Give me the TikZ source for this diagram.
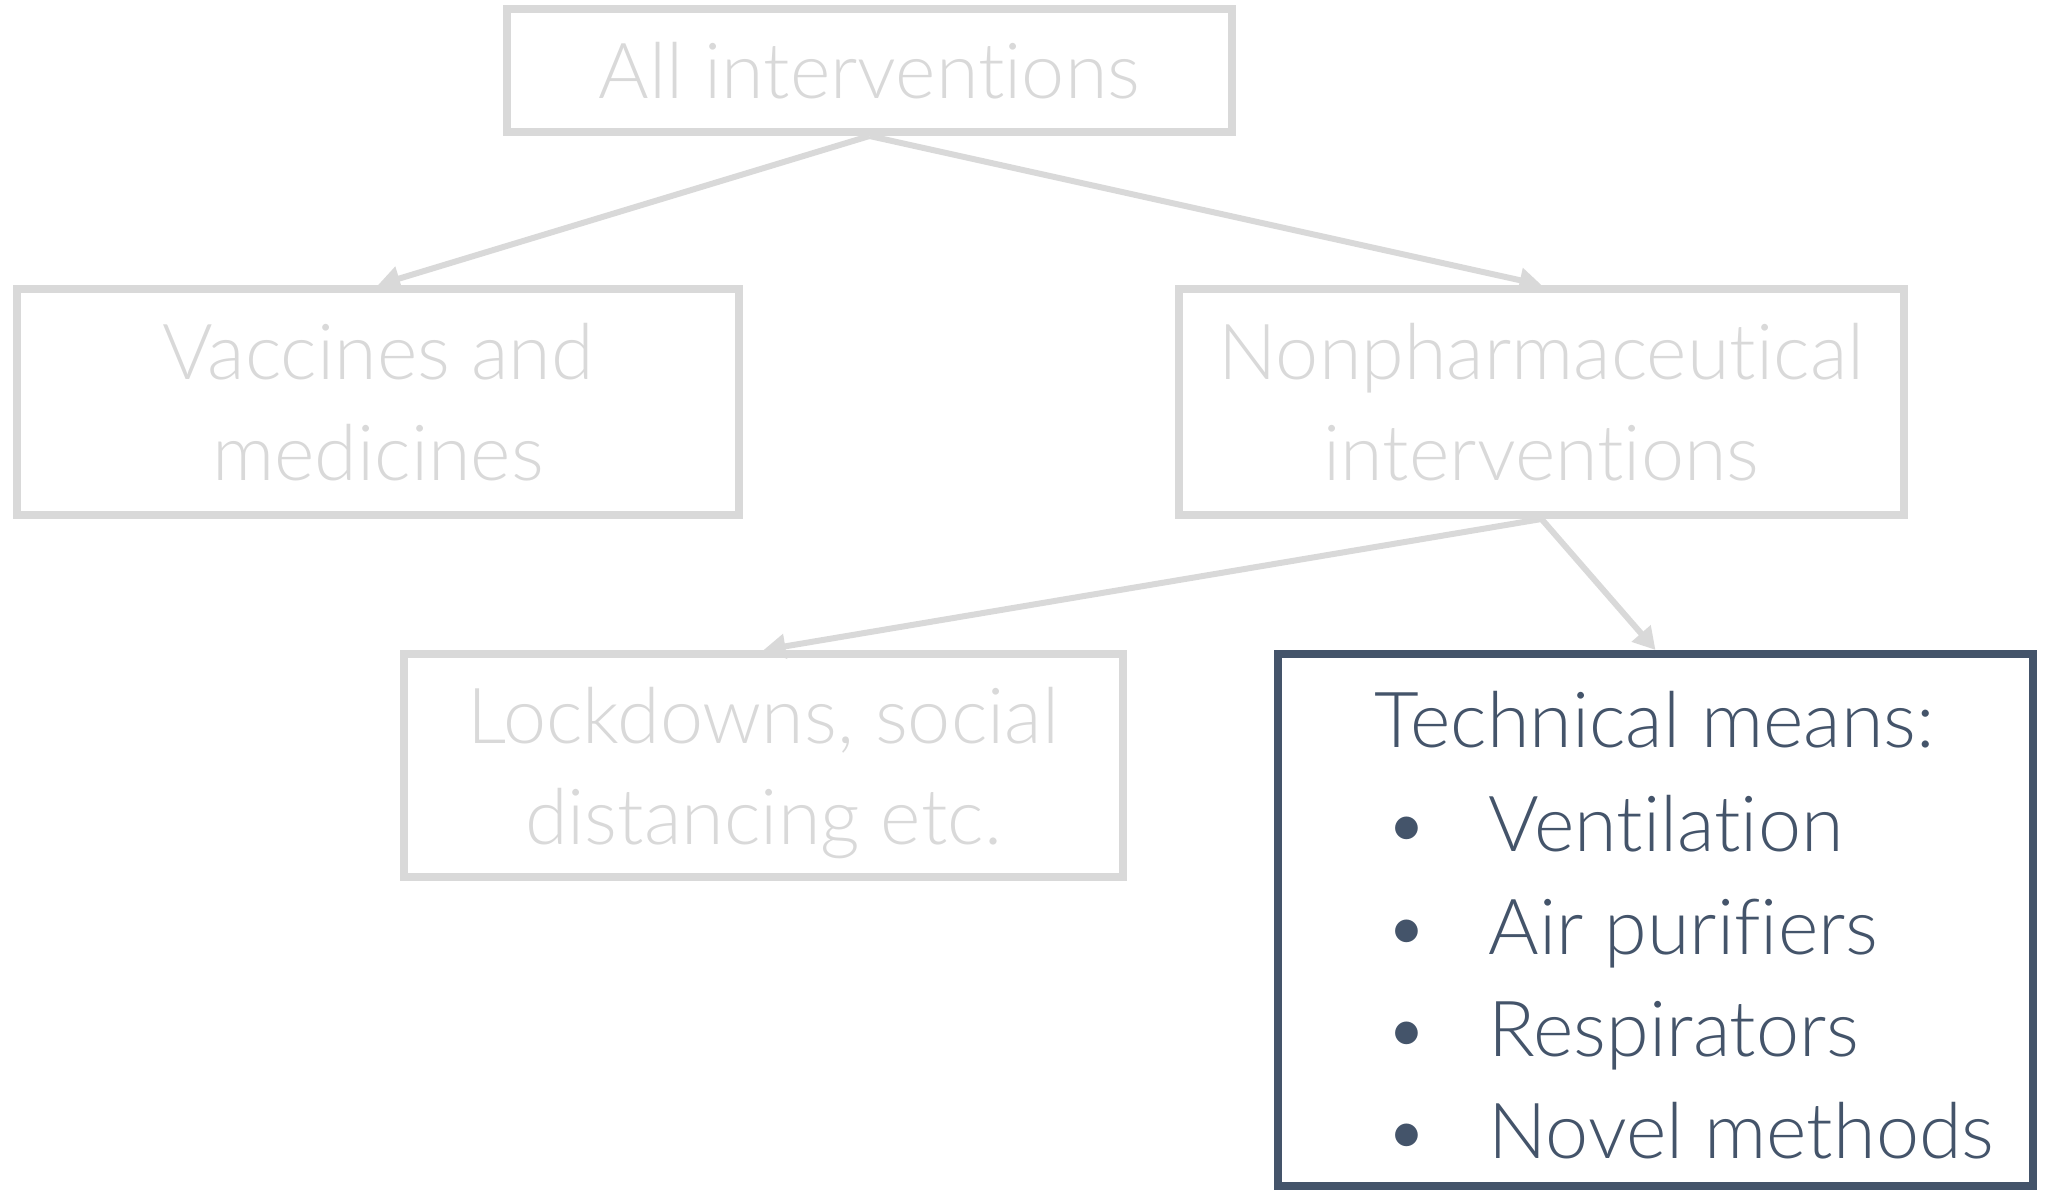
\documentclass[tikz,border=0pt]{standalone}
\usepackage{fontspec}
\setmainfont{Lato}[UprightFont={* Light}, Ligatures=NoCommon]
\usetikzlibrary{arrows.meta,positioning}
\definecolor{faded}{HTML}{D9D9D9}
\definecolor{slate}{HTML}{44546A}

\begin{document}
\begin{tikzpicture}[every node/.style={font=\fontsize{22}{28.7}\selectfont},
  box/.style={draw, rectangle, line width=0.8mm, align=center, inner sep=0pt},
  link/.style={faded, line width=0.6mm, -{Triangle[length=2.2mm, width=2.4mm]}}]
  \useasboundingbox (0,0) rectangle (20.49,-11.9);

  % tree of interventions
  \node[box, faded, minimum width=7.25cm, minimum height=1.23cm] (all) at (8.695,-0.705) {All interventions};
  \node[box, faded, minimum width=7.22cm, minimum height=2.26cm] (vac) at (3.78,-4.02) {Vaccines and\\medicines};
  \node[box, faded, minimum width=7.25cm, minimum height=2.26cm] (npi) at (15.415,-4.02) {Nonpharmaceutical\\interventions};
  \node[box, faded, minimum width=7.19cm, minimum height=2.23cm, text depth=0pt] (lock) at (7.635,-7.655) {Lockdowns, social\\distancing etc.};
  \node[box, slate, minimum width=7.55cm, minimum height=5.32cm] (tech) at (16.555,-9.2) {};

  % contents of the highlighted box
  \node[slate, anchor=base] (techhead) at (16.55,-7.48) {Technical means:};
  \foreach \t [count=\i] in {Ventilation, Air purifiers, Respirators, Novel methods}{
    \node[slate, anchor=base] (dot\i) at (14.07,{-8.52-1.02*(\i-1)}) {\textbullet};
    \node[slate, anchor=base west, inner sep=0pt] (item\i) at (14.88,{-8.52-1.02*(\i-1)}) {\t};
  }

  % arrows
  \draw[link] (all.south) -- (vac.north);
  \draw[link] (all.south) -- (npi.north);
  \draw[link] (npi.south) -- (lock.north);
  \draw[link] (npi.south) -- (tech.north);
\end{tikzpicture}
\end{document}
